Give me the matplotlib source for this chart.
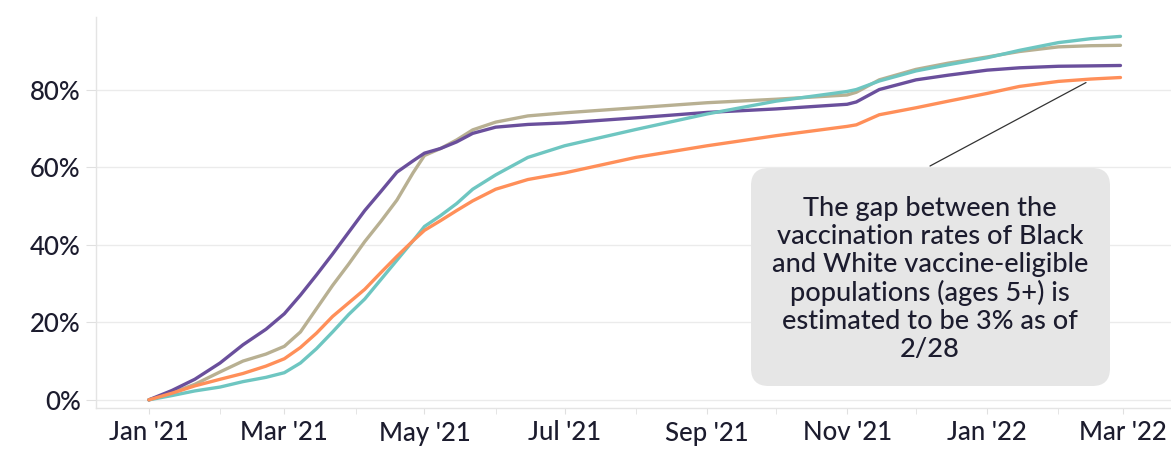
import matplotlib
matplotlib.use("Agg")
import matplotlib.pyplot as plt
import matplotlib.dates as mdates
from matplotlib.patches import FancyBboxPatch
import datetime as dt

plt.rcParams['font.family'] = ['Lato', 'DejaVu Sans']

dates = ["2021-01-01", "2021-01-11", "2021-01-21", "2021-02-01", "2021-02-11", "2021-02-21",
         "2021-03-01", "2021-03-08", "2021-03-15", "2021-03-22", "2021-03-29", "2021-04-05",
         "2021-04-12", "2021-04-19", "2021-04-26", "2021-05-01", "2021-05-08", "2021-05-15",
         "2021-05-22", "2021-06-01", "2021-06-15", "2021-07-01", "2021-08-01", "2021-09-01",
         "2021-10-01", "2021-11-01", "2021-11-05", "2021-11-15", "2021-12-01", "2021-12-15",
         "2022-01-01", "2022-01-15", "2022-02-01", "2022-02-15", "2022-02-28"]

purple = [0, 2.4, 5.3, 9.5, 14.2, 18.2, 22.2, 27, 32.2, 37.6, 43.2, 48.8, 53.7, 58.7, 61.6,
          63.6, 64.8, 66.5, 68.7, 70.3, 71, 71.4, 72.7, 74.1, 75, 76.2, 76.8, 80, 82.5, 83.7,
          85, 85.6, 86, 86.1, 86.2]
tan = [0, 1.8, 4, 7.2, 10, 11.8, 13.8, 17.5, 23.5, 29.5, 35, 40.8, 46, 51.5, 58.5,
       63, 64.8, 67, 69.6, 71.6, 73.2, 74, 75.3, 76.6, 77.5, 78.6, 79.3, 82.5, 85.2, 86.8,
       88.4, 89.8, 91, 91.3, 91.4]
teal = [0, 1.1, 2.3, 3.3, 4.7, 5.8, 7, 9.5, 13.2, 17.5, 22, 26, 31, 36, 41,
        44.7, 47.5, 50.6, 54.3, 58, 62.5, 65.5, 69.7, 73.7, 77, 79.5, 80, 82.2, 84.8, 86.4,
        88.2, 90.1, 92.1, 93.1, 93.7]
orange = [0, 1.7, 3.6, 5.3, 6.8, 8.7, 10.6, 13.5, 17.2, 21.5, 25, 28.5, 32.8, 37, 41,
          43.7, 46.2, 48.8, 51.3, 54.3, 56.8, 58.5, 62.5, 65.5, 68.1, 70.5, 70.9, 73.5, 75.3, 77,
          79, 80.8, 82.1, 82.7, 83.1]

series = [("tan", tan, "#b8b092"), ("purple", purple, "#6a4f9c"),
          ("teal", teal, "#6ec6c1"), ("orange", orange, "#ff8f59")]

yticks = [0, 20, 40, 60, 80]
note = ("The gap between the\nvaccination rates of Black\nand White vaccine-eligible\n"
        "populations (ages 5+) is\nestimated to be 3% as of\n2/28")
note_target = ("2022-02-13", 81.8)

W, H = 1171, 449
fig = plt.figure(figsize=(W / 100, H / 100), dpi=100)
ax = fig.add_axes([96 / W, 1 - 408 / H, 1 - 96 / W, (408 - 17) / H])

x = [dt.datetime.strptime(d, "%Y-%m-%d") for d in dates]
for name, vals, col in series:
    ax.plot(x, vals, color=col, lw=2.4, solid_capstyle='round', solid_joinstyle='round',
            zorder=3)

ax.set_xlim(dt.datetime(2020, 12, 9), dt.datetime(2022, 3, 22))
ax.set_ylim(-2.1, 98.7)
ax.set_yticks(yticks)
ax.set_yticklabels([f"{v}%" for v in yticks])
ax.xaxis.set_major_locator(mdates.MonthLocator(bymonth=[1, 3, 5, 7, 9, 11]))
ax.xaxis.set_minor_locator(mdates.MonthLocator())
ax.xaxis.set_major_formatter(mdates.DateFormatter("%b '%y"))

ax.grid(axis='y', color='#ebebeb', lw=1)
ax.set_axisbelow(True)
for s in ['top', 'right']:
    ax.spines[s].set_visible(False)
for s in ['left', 'bottom']:
    ax.spines[s].set_color('#e4e4e4')
    ax.spines[s].set_linewidth(1)
ax.tick_params(axis='both', which='both', color='#e0e0e0', labelcolor='#1c1c2e',
               labelsize=18.5)
ax.tick_params(axis='x', which='both', length=4, pad=5)
ax.tick_params(axis='y', length=7, pad=4)
for lab in ax.get_xticklabels() + ax.get_yticklabels():
    lab.set_fontweight('medium')

# annotation box
bx0, by0, bx1, by1 = 751, 168, 1110, 386
box = FancyBboxPatch((bx0 / W, 1 - by1 / H), (bx1 - bx0) / W, (by1 - by0) / H,
                     boxstyle="round,pad=0,rounding_size=0.015",
                     transform=fig.transFigure, fc='#e6e6e6', ec='none', zorder=5,
                     mutation_aspect=W / H)
fig.patches.append(box)
fig.text(930 / W, 1 - 279 / H, note, ha='center', va='center', fontsize=19.5,
         fontweight='medium', color='#1c1c2e', linespacing=1.15, zorder=6)
tx = dt.datetime.strptime(note_target[0], "%Y-%m-%d")
ax.annotate("", xy=(tx, note_target[1]), xycoords='data',
            xytext=(930 / W, 1 - 166 / H), textcoords='figure fraction',
            arrowprops=dict(arrowstyle='-', color='#333333', lw=0.9,
                            shrinkA=0, shrinkB=0), zorder=4)

fig.savefig("out.png", dpi=100)
